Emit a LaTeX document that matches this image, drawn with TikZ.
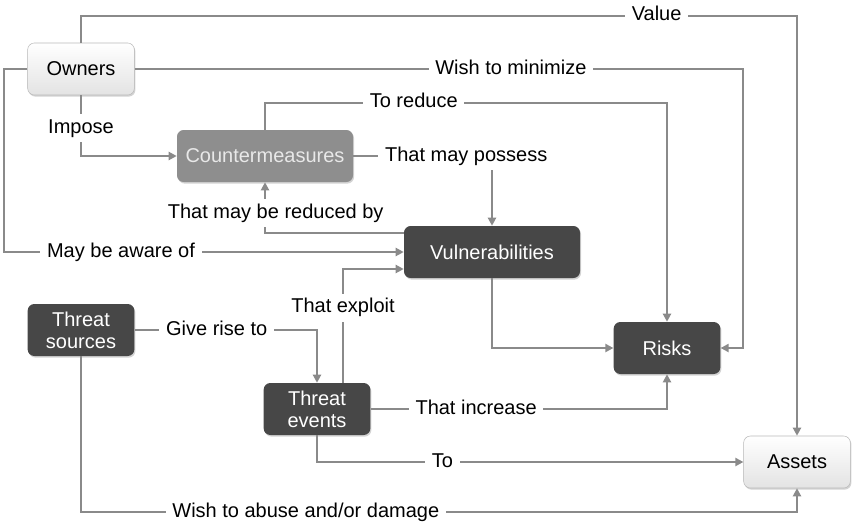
\documentclass[tikz,border=0pt]{standalone}
\usepackage{fontspec}
\setmainfont{Liberation Sans}
\usetikzlibrary{arrows.meta,shadows}
\definecolor{linegray}{HTML}{8A8A8A}
\definecolor{midfill}{HTML}{8E8E8E}
\definecolor{darkfill}{HTML}{474747}
\definecolor{midtext}{HTML}{E8E8E8}

\tikzset{
  box/.style={rounded corners=5pt, minimum width=80pt, minimum height=39pt,
    align=center, inner sep=2pt,
    drop shadow={shadow xshift=0.8pt, shadow yshift=-1.2pt, opacity=0.35}},
  lightbox/.style={box, draw=gray!55, top color=white, bottom color=gray!22},
  midbox/.style={box, fill=midfill, text=midtext, minimum width=132pt},
  darkbox/.style={box, fill=darkfill, text=white},
  lbl/.style={fill=white, inner xsep=5pt, inner ysep=4pt,
    text height=10.5pt, text depth=3pt},
  link/.style={draw=linegray, line width=1.6pt, -{Triangle[length=6pt,width=6pt]}}
}

\begin{document}
\begin{tikzpicture}[x=0.75pt,y=-0.75pt,font=\fontsize{15}{16.5}\selectfont]
  \useasboundingbox (0,0) rectangle (853,522);

  % boxes
  \node[lightbox] (own) at (81,69) {Owners};
  \node[midbox] (cm) at (265,156) {Countermeasures};
  \node[darkbox, minimum width=132pt] (vul) at (492,252) {Vulnerabilities};
  \node[darkbox] (ts) at (81,330) {Threat\\sources};
  \node[darkbox] (risk) at (667,348) {Risks};
  \node[darkbox] (te) at (317,409) {Threat\\events};
  \node[lightbox] (ast) at (797,462) {Assets};

  % owners side
  \draw[link] (own.north) -- ++(0,-27) -| node[lbl,pos=0.402] (lval) {Value} (ast.north);
  \draw[link] (own.east) -- node[lbl,pos=0.618] (lmin) {Wish to minimize} (own.east -| ast.west) |- (risk.east);
  \draw[link] (own.south) |- node[lbl,pos=0.27] (limp) {Impose} (cm.west);
  \draw[link] (own.west) -- ++(-23,0) |- node[lbl,pos=0.646] (laware) {May be aware of} (vul.west);

  % countermeasures and vulnerabilities
  \draw[link] (cm.north) -- ++(0,-27) -| node[lbl,pos=0.185] (lred) {To reduce} (risk.north);
  \draw[link] (cm.east) -| node[lbl,pos=0.407] (lpos) {That may possess} (vul.north);
  \draw[link] ([yshift=14.25pt]vul.west) -| node[lbl,pos=0.696,xshift=8pt] (lredby) {That may be reduced by} (cm.south);
  \draw[link] (vul.south) |- (risk.west);

  % threats
  \draw[link] (ts.east) -| node[lbl,pos=0.225] (lrise) {Give rise to} (te.north);
  \draw[link] ([xshift=19.5pt]te.north) |- node[lbl,pos=0.329] (lexp) {That exploit} ([yshift=-12.75pt]vul.west);
  \draw[link] (te.east) -| node[lbl,pos=0.178] (linc) {That increase} (risk.south);
  \draw[link] (te.south) |- node[lbl,pos=0.647] (lto) {To} (ast.west);
  \draw[link] (ts.south) -- ++(0,156) -| node[lbl,pos=0.157] (labuse) {Wish to abuse and/or damage} (ast.south);
\end{tikzpicture}
\end{document}
